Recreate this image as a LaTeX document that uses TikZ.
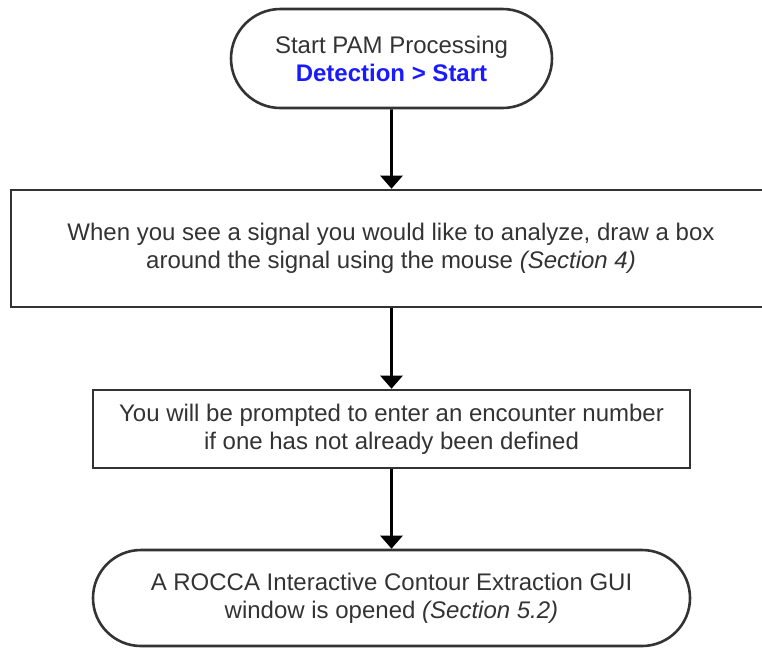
\documentclass[tikz,border=0pt]{standalone}
\usepackage{fontspec}
\setmainfont{Liberation Sans}
\usepackage{tikz}
\usetikzlibrary{shapes.misc,arrows.meta}

\definecolor{edgegray}{HTML}{333333}
\definecolor{textgray}{HTML}{333333}
\definecolor{linkblue}{HTML}{1A1AFF}

\begin{document}
\begin{tikzpicture}[x=1pt,y=-1pt,
    term_node/.style={rounded rectangle,draw=edgegray,line width=2.6pt,inner sep=0pt,align=center,text=textgray,font=\fontsize{24}{28}\selectfont},
    box_node/.style={rectangle,draw=edgegray,line width=2.6pt,inner sep=0pt,align=center,text=textgray,font=\fontsize{24}{28}\selectfont},
    arrow_line/.style={line width=2.6pt,-{Triangle[width=22pt,length=13pt]}}]

    \useasboundingbox (0,0) rectangle (762,649);

	\node[term_node, minimum width=321pt, minimum height=99pt] (1) at (391.5,58.5)
        {Start PAM Processing\\ \textcolor{linkblue}{\textbf{Detection > Start}}};
    % the right side of this box runs off the page
    \node[box_node, minimum width=820pt, minimum height=117pt] (2) at (421,248.5)
        {};
    \node[text=textgray, align=center, font=\fontsize{24}{28}\selectfont] (2t) at (391,248.5)
        {When you see a signal you would like to analyze, draw a box\\ around the signal using the mouse \textit{(Section 4)}};
    \node[box_node, minimum width=597pt, minimum height=78pt] (3) at (391.5,429)
        {You will be prompted to enter an encounter number\\ if one has not already been defined};
    \node[term_node, minimum width=597pt, minimum height=96pt] (4) at (391.5,598)
        {A ROCCA Interactive Contour Extraction GUI\\ window is opened \textit{(Section 5.2)}};

    \draw[arrow_line] (1) -- (1 |- 2.north);
    \draw[arrow_line] (3 |- 2.south) -- (3);
    \draw[arrow_line] (3) -- (4);

\end{tikzpicture}
\end{document}
